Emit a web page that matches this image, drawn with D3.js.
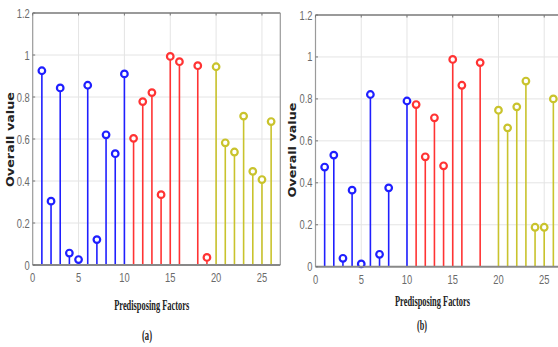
<!DOCTYPE html>
<html>
<head>
<meta charset="utf-8">
<script src="https://d3js.org/d3.v7.min.js"></script>
<style>
    body { margin: 0; background: #fff; }
    svg { display: block; }
    .tick-label { font-family: "Liberation Sans", Arial, sans-serif; font-size: 12px; fill: #6a6a6a; }
    .axis-title { font-family: "Liberation Serif", "Times New Roman", serif; font-weight: bold; fill: #222; }
    .y-title { font-family: "DejaVu Sans", sans-serif; font-weight: bold; fill: #222; }
</style>
</head>
<body>
<svg id="chart" width="558" height="347"></svg>
<script>

    // predisposing factors 1..26, null = no stem
    var factors = d3.range(1, 27);
    var groupOf = function(f) { return f <= 10 ? 'g1' : (f <= 19 ? 'g2' : 'g3'); };

    var valuesA = [0.925, 0.304, 0.843, 0.057, 0.026, 0.856, 0.121, 0.62, 0.53, 0.91,
                   0.603, 0.778, 0.821, 0.335, 0.993, 0.968, null, 0.949, 0.036,
                   0.944, 0.582, 0.538, 0.709, 0.446, 0.407, 0.683];

    var valuesB = [0.475, 0.532, 0.04, 0.365, 0.013, 0.821, 0.059, 0.376, null, 0.79,
                   0.773, 0.524, 0.71, 0.481, 0.988, 0.865, null, 0.973, null,
                   0.746, 0.662, 0.762, 0.885, 0.188, 0.188, 0.80];

    var xTicks = [0, 5, 10, 15, 20, 25];
    var yTicks = [0, 0.2, 0.4, 0.6, 0.8, 1, 1.2];

    var colors = { g1: '#1f1fff', g2: '#ff3333', g3: '#c9c32c' };

    var svg = d3.select('#chart');

    drawPanel(svg, valuesA, {
        left: 32.7, right: 280.3, top: 13, bottom: 265,
        ylabelX: 10.3, ylabelY: 139.5, xlabelX: 151.7, xlabelY: 310,
        caption: '(a)', captionX: 147, captionY: 340
    });
    drawPanel(svg, valuesB, {
        left: 315.5, right: 562.5, top: 15, bottom: 266.7,
        ylabelX: 292.3, ylabelY: 150, xlabelX: 432.5, xlabelY: 306,
        caption: '(b)', captionX: 422, captionY: 330
    });

    function drawPanel(svg, values, p) {

        var x = d3.scaleLinear().domain([0, 27]).range([p.left, p.right]);
        var y = d3.scaleLinear().domain([0, 1.2]).range([p.bottom, p.top]);

        var g = svg.append('g');

        // grid
        g.selectAll('.vgrid')
            .data(xTicks.slice(1))
          .enter()
            .append('line')
            .attr('x1', function(d) { return x(d); })
            .attr('x2', function(d) { return x(d); })
            .attr('y1', p.top)
            .attr('y2', p.bottom)
            .attr('stroke', '#e4e4e4')
            .attr('stroke-width', 1);

        g.selectAll('.hgrid')
            .data(yTicks.slice(1, -1))
          .enter()
            .append('line')
            .attr('x1', p.left)
            .attr('x2', p.right)
            .attr('y1', function(d) { return y(d); })
            .attr('y2', function(d) { return y(d); })
            .attr('stroke', '#e4e4e4')
            .attr('stroke-width', 1);

        // stems
        var pts = factors.map(function(f, i) { return { f: f, v: values[i], grp: groupOf(f) }; })
            .filter(function(d) { return d.v !== null; });

        g.selectAll('.stem')
            .data(pts)
          .enter()
            .append('line')
            .attr('x1', function(d) { return x(d.f); })
            .attr('x2', function(d) { return x(d.f); })
            .attr('y1', y(0))
            .attr('y2', function(d) { return y(d.v); })
            .attr('stroke', function(d) { return colors[d.grp]; })
            .attr('stroke-width', 1.6);

        g.selectAll('.mark')
            .data(pts)
          .enter()
            .append('circle')
            .attr('cx', function(d) { return x(d.f); })
            .attr('cy', function(d) { return y(d.v); })
            .attr('r', 3.3)
            .attr('fill', '#fff')
            .attr('stroke', function(d) { return colors[d.grp]; })
            .attr('stroke-width', 2.2);

        // frame
        var frame = '#9a9a9a';
        g.append('line').attr('x1', p.left).attr('x2', p.left).attr('y1', p.top).attr('y2', p.bottom)
            .attr('stroke', frame).attr('stroke-width', 1.2);
        g.append('line').attr('x1', p.right).attr('x2', p.right).attr('y1', p.top).attr('y2', p.bottom)
            .attr('stroke', frame).attr('stroke-width', 1.2);
        g.append('line').attr('x1', p.left).attr('x2', p.right).attr('y1', p.top).attr('y2', p.top)
            .attr('stroke', frame).attr('stroke-width', 2);
        g.append('line').attr('x1', p.left).attr('x2', p.right).attr('y1', p.bottom).attr('y2', p.bottom)
            .attr('stroke', '#888').attr('stroke-width', 2);

        // tick marks
        g.selectAll('.ytick')
            .data(yTicks)
          .enter()
            .append('line')
            .attr('x1', p.left).attr('x2', p.left + 2.5)
            .attr('y1', function(d) { return y(d); })
            .attr('y2', function(d) { return y(d); })
            .attr('stroke', '#777');

        g.selectAll('.xtick')
            .data(xTicks)
          .enter()
            .append('line')
            .attr('x1', function(d) { return x(d); })
            .attr('x2', function(d) { return x(d); })
            .attr('y1', p.top).attr('y2', p.top + 2.5)
            .attr('stroke', '#777');

        // tick labels (narrow look)
        g.selectAll('.ylab')
            .data(yTicks)
          .enter()
            .append('text')
            .attr('class', 'tick-label')
            .attr('transform', function(d) {
                return 'translate(' + (p.left - 3) + ',' + (y(d) + 4.5) + ') scale(0.78,1)';
            })
            .attr('text-anchor', 'end')
            .text(function(d) { return d3.format('~g')(d); });

        g.selectAll('.xlab')
            .data(xTicks)
          .enter()
            .append('text')
            .attr('class', 'tick-label')
            .attr('transform', function(d) {
                return 'translate(' + x(d) + ',' + (p.bottom + 17) + ') scale(0.78,1)';
            })
            .attr('text-anchor', 'middle')
            .text(function(d) { return d; });

        // titles
        g.append('text')
            .attr('class', 'y-title')
            .attr('transform', 'translate(' + (p.ylabelX + 3.8) + ',' + p.ylabelY + ') rotate(-90)')
            .attr('text-anchor', 'middle')
            .attr('font-size', 10)
            .attr('textLength', 95)
            .attr('lengthAdjust', 'spacingAndGlyphs')
            .text('Overall value');

        g.append('text')
            .attr('class', 'axis-title')
            .attr('x', p.xlabelX)
            .attr('y', p.xlabelY)
            .attr('text-anchor', 'middle')
            .attr('font-size', 15)
            .attr('textLength', 75)
            .attr('lengthAdjust', 'spacingAndGlyphs')
            .text('Predisposing Factors');

        g.append('text')
            .attr('class', 'axis-title')
            .attr('x', p.captionX)
            .attr('y', p.captionY)
            .attr('text-anchor', 'middle')
            .attr('font-size', 14)
            .attr('textLength', 10)
            .attr('lengthAdjust', 'spacingAndGlyphs')
            .text(p.caption);
    }

</script>
</body>
</html>
